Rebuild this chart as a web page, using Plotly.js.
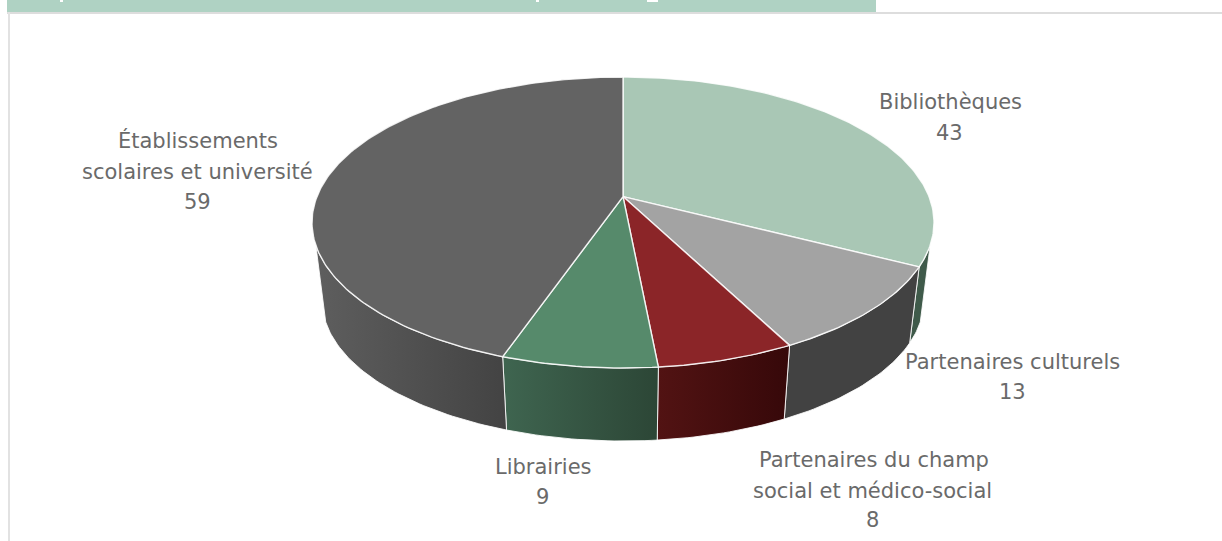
<!DOCTYPE html>
<html>
<head>
<meta charset="utf-8">
<script src="https://cdn.plot.ly/plotly-3.0.1.min.js"></script>
<style>html,body{margin:0;padding:0;background:#fff;overflow:hidden}#chart{width:1222px;height:541px}</style>
</head>
<body>
<div id="chart"></div>
<script>
// ---- data ----
const categories = ["Bibliothèques", "Partenaires culturels", "Partenaires du champ social et médico-social", "Librairies", "Établissements scolaires et université"];
const values = [43, 13, 8, 9, 59];
const labelLines = [
  ["Bibliothèques", "43"],
  ["Partenaires culturels", "13"],
  ["Partenaires du champ", "social et médico-social", "8"],
  ["Librairies", "9"],
  ["Établissements", "scolaires et université", "59"]
];

// ---- styling ----
const topColors = ["#a9c7b5", "#a3a3a3", "#8b2528", "#568a6b", "#636363"];
const sideGradients = [
  ["#3f5a4a", "#3f5a4a"],
  ["#424242", "#424242"],
  ["#521313", "#360809"],
  ["#3f6550", "#2c4636"],
  ["#5e5e5e", "#434343"]
];
const labelPositions = [
  [[950, 102], [949, 133]],
  [[1012, 362], [1012, 392]],
  [[874, 460], [872, 491], [872, 520]],
  [[543, 467], [542, 497]],
  [[198, 140], [197, 172], [197, 202]]
];

// ---- perspective disc geometry (plot units are pixels) ----
const topRim = {cx: 623, cy: 222.5, rx: 311, ry: 145.5};
const bottomRim = {cx: 623, cy: 300, rx: 301, ry: 141};
const tilt = -0.178;
const visibleFrom = 109, visibleTo = 251; // degrees clockwise from top where the wall shows

function project(rim, deg) {
  const a = deg * Math.PI / 180;
  const X = Math.sin(a), Y = -Math.cos(a);
  const w = 1 + tilt * Y;
  return [rim.cx + rim.rx * X * Math.sqrt(1 - tilt * tilt) / w,
          rim.cy + rim.ry * (Y + tilt) / w];
}
function arc(rim, d0, d1) {
  const pts = [], n = Math.max(2, Math.ceil(Math.abs(d1 - d0)));
  for (let i = 0; i <= n; i++) pts.push(project(rim, d0 + (d1 - d0) * i / n));
  return pts;
}

const total = values.reduce((s, v) => s + v, 0);
let running = 0;
const spans = values.map(v => {
  const s = [running / total * 360, (running + v) / total * 360];
  running += v;
  return s;
});
const apex = [topRim.cx, topRim.cy + topRim.ry * tilt];
const edge = "rgba(255,255,255,0.85)";
const traces = [];

// walls first, so that the top face covers whatever lies behind it
spans.forEach((s, i) => {
  const d0 = Math.max(s[0], visibleFrom), d1 = Math.min(s[1], visibleTo);
  if (d1 <= d0) return;
  const poly = arc(topRim, d0, d1).concat(arc(bottomRim, d1, d0));
  poly.push(poly[0]);
  const xs = poly.map(p => p[0]);
  traces.push({
    type: "scatter", mode: "lines", name: categories[i],
    x: xs, y: poly.map(p => p[1]),
    fill: "toself", fillcolor: sideGradients[i][0],
    fillgradient: {type: "horizontal", start: Math.min(...xs), stop: Math.max(...xs),
      colorscale: [[0, sideGradients[i][0]], [1, sideGradients[i][1]]]},
    line: {color: edge, width: 1}, hoverinfo: "skip"
  });
});

// top face
spans.forEach((s, i) => {
  const poly = [apex].concat(arc(topRim, s[0], s[1]));
  poly.push(apex);
  traces.push({
    type: "scatter", mode: "lines", name: categories[i],
    x: poly.map(p => p[0]), y: poly.map(p => p[1]),
    fill: "toself", fillcolor: topColors[i],
    line: {color: edge, width: 1.4}, hoverinfo: "skip"
  });
});

const annotations = [];
labelLines.forEach((lines, i) => lines.forEach((t, j) => {
  annotations.push({
    xref: "x", yref: "y", x: labelPositions[i][j][0], y: labelPositions[i][j][1],
    text: t, showarrow: false, xanchor: "center", yanchor: "middle",
    font: {family: "'DejaVu Sans', sans-serif", size: 21, color: "#6a6a6a"}
  });
}));

const layout = {
  width: 1222, height: 541,
  margin: {l: 0, r: 0, t: 0, b: 0},
  paper_bgcolor: "#ffffff", plot_bgcolor: "#ffffff",
  showlegend: false,
  xaxis: {range: [0, 1222], visible: false, fixedrange: true},
  yaxis: {range: [541, 0], visible: false, fixedrange: true},
  annotations: annotations,
  shapes: [
    {type: "rect", xref: "x", yref: "y", x0: 7, x1: 876, y0: 0, y1: 12, fillcolor: "#afd2c3", line: {width: 0}, layer: "below"},
    {type: "rect", xref: "x", yref: "y", x0: 7, x1: 1222, y0: 12, y1: 14, fillcolor: "#dddddd", line: {width: 0}, layer: "below"},
    {type: "rect", xref: "x", yref: "y", x0: 8, x1: 10, y0: 12, y1: 541, fillcolor: "#e2e2e2", line: {width: 0}, layer: "below"},
    {type: "rect", xref: "x", yref: "y", x0: 60, x1: 63, y0: 0, y1: 2, fillcolor: "#ffffff", line: {width: 0}, layer: "below"},
    {type: "rect", xref: "x", yref: "y", x0: 536, x1: 539, y0: 0, y1: 2, fillcolor: "#ffffff", line: {width: 0}, layer: "below"},
    {type: "rect", xref: "x", yref: "y", x0: 647, x1: 658, y0: 0, y1: 2, fillcolor: "#ffffff", line: {width: 0}, layer: "below"}
  ]
};

Plotly.newPlot("chart", traces, layout, {staticPlot: true, displayModeBar: false});
</script>
</body>
</html>
